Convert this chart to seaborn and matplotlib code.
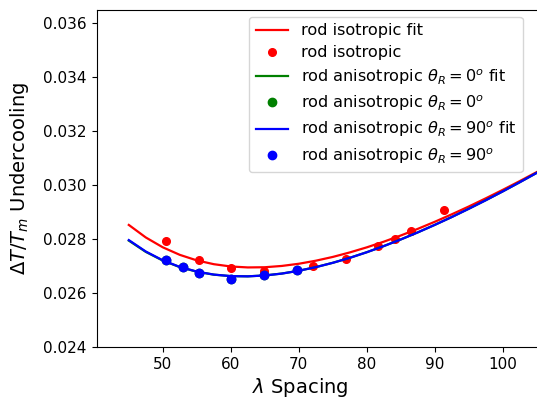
import matplotlib
matplotlib.use("Agg")
import matplotlib.pyplot as plt
import seaborn as sns
import numpy as np

fit_lambda = [45, 47.5, 50, 52.5, 55, 57.5, 60, 62.5, 65, 67.5, 70, 72.5, 75,
              77.5, 80, 82.5, 85, 87.5, 90, 92.5, 95, 97.5, 100, 102.5, 105]
iso_fit = [0.028521, 0.028057, 0.027692, 0.027413, 0.027208, 0.027067, 0.026982,
           0.026947, 0.026954, 0.027002, 0.027083, 0.027196, 0.027336, 0.027503,
           0.027691, 0.027901, 0.028130, 0.028376, 0.028638, 0.028915, 0.029204,
           0.029507, 0.029821, 0.030146, 0.030480]
aniso0_fit = [0.027940, 0.027522, 0.027200, 0.026958, 0.026789, 0.026679, 0.026625,
              0.026617, 0.026650, 0.026720, 0.026825, 0.026958, 0.027119, 0.027303,
              0.027511, 0.027739, 0.027984, 0.028246, 0.028524, 0.028815, 0.029121,
              0.029437, 0.029765, 0.030104, 0.030451]
aniso90_fit = [0.027960, 0.027537, 0.027211, 0.026966, 0.026794, 0.026682, 0.026626,
               0.026617, 0.026649, 0.026719, 0.026824, 0.026957, 0.027118, 0.027302,
               0.027510, 0.027738, 0.027983, 0.028245, 0.028523, 0.028814, 0.029120,
               0.029436, 0.029764, 0.030103, 0.030450]

# Data points
iso_lambda = [50.4, 55.3, 60.1, 64.9, 72.1, 76.9, 81.7, 84.1, 86.5, 91.3]
iso_vals = [0.02793, 0.02722, 0.02692, 0.02683, 0.02699, 0.02726, 0.02773,
            0.02801, 0.02830, 0.02907]
aniso0_lambda = [50.5, 52.9, 55.3, 60.1, 64.9, 69.7]
aniso0_vals = [0.02722, 0.02696, 0.02673, 0.02653, 0.02666, 0.02684]
aniso90_lambda = [50.5, 52.9, 55.3, 60.1, 64.9, 69.7]
aniso90_vals = [0.02722, 0.02696, 0.02673, 0.02653, 0.02666, 0.02684]

yticks = [0.024, 0.026, 0.028, 0.030, 0.032, 0.034, 0.036]
xticks = [50, 60, 70, 80, 90, 100]

fig = plt.figure(figsize=(5.37, 4.0), dpi=100)
W, H = 537, 400
left_px, right_px, top_px, bottom_px = 96.5, 543.6, 9.5, 347
ax = fig.add_axes([left_px / W, 1 - bottom_px / H,
                   (right_px - left_px) / W, (bottom_px - top_px) / H])

sns.lineplot(x=fit_lambda, y=iso_fit, ax=ax, color='red', lw=1.6,
             label='rod isotropic fit', legend=False)
ax.plot(iso_lambda, iso_vals, 'o', color='red', ms=5.5, label='rod isotropic')
sns.lineplot(x=fit_lambda, y=aniso0_fit, ax=ax, color='green', lw=1.6,
             label=r'rod anisotropic $\theta_R=0^o$ fit', legend=False)
ax.plot(aniso0_lambda, aniso0_vals, 'o', color='green', ms=6,
        label=r'rod anisotropic $\theta_R=0^o$')
sns.lineplot(x=fit_lambda, y=aniso90_fit, ax=ax, color='blue', lw=1.6,
             label=r'rod anisotropic $\theta_R=90^o$ fit', legend=False)
ax.plot(aniso90_lambda, aniso90_vals, 'o', color='blue', ms=6,
        label=r'rod anisotropic $\theta_R=90^o$')

ax.set_xlim(40.25, 106.0)
ax.set_ylim(0.024, 0.0365)
ax.set_xticks(xticks)
ax.set_yticks(yticks)
ax.set_yticklabels([f"{v:.3f}" for v in yticks])
ax.tick_params(labelsize=11)

ax.set_xlabel(r'$\lambda$ Spacing', fontsize=14)
ax.set_ylabel(r'$\Delta T/T_m$ Undercooling', fontsize=14, labelpad=9)
ax.xaxis.set_label_coords((300 - left_px) / (right_px - left_px), -0.086)

handles, labels = ax.get_legend_handles_labels()
leg = ax.legend(handles, labels, loc='upper right', fontsize=11.6,
                bbox_to_anchor=(522.5 / W, 1 - 17 / H), bbox_transform=fig.transFigure,
                borderaxespad=0, labelspacing=0.42, framealpha=0.8)

fig.savefig('out.png', dpi=100)
